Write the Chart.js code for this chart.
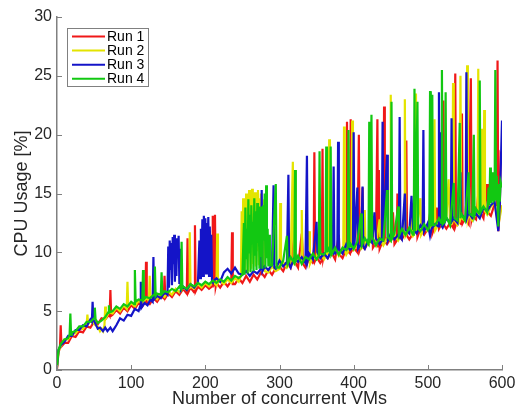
<!DOCTYPE html>
<html>
<head>
<meta charset="utf-8">
<script src="https://cdn.jsdelivr.net/npm/chart.js@4.4.0/dist/chart.umd.min.js"></script>
<style>
  html, body { margin: 0; padding: 0; background: #fff; }
  #wrap { width: 516px; height: 411px; }
</style>
</head>
<body>
<div id="wrap"><canvas id="cpuChart" width="516" height="411"></canvas></div>
<script>
// CPU usage per number of concurrent VMs, 4 runs, [vm, cpu %]
const runLabels = ['Run 1', 'Run 2', 'Run 3', 'Run 4'];
const runColors = ['#f01818', '#e4e400', '#1414c8', '#12c812'];

const run1 = [[0,0.1],[2,1.5],[4,1.9],[5,3.8],[6,2.0],[10,2.3],[15,2.3],[20,2.9],[25,2.8],[30,3.3],[35,3.2],[40,3.7],[45,3.6],[50,4.1],[55,3.9],[60,4.4],[65,4.3],[70,4.7],[71,4.6],[72,6.8],[73,4.6],[75,4.7],[80,5.1],[85,4.8],[90,5.3],[95,5.0],[100,5.5],[105,5.2],[110,5.7],[115,5.4],[119,5.8],[120,9.2],[121,5.7],[125,5.6],[130,6.1],[135,5.8],[140,6.3],[144,6.1],[145,8.0],[146,6.1],[150,6.5],[155,6.2],[160,6.7],[165,6.4],[170,6.9],[175,6.5],[176,11.2],[177,6.6],[180,7.0],[185,6.6],[186,12.3],[187,6.7],[190,7.1],[195,6.8],[200,7.2],[205,6.9],[209,7.1],[210,13.1],[211,7.1],[213,13.2],[214,7.1],[215,7.4],[220,7.0],[225,7.5],[230,7.1],[235,7.6],[236,11.7],[237,7.3],[240,7.3],[245,7.8],[250,7.4],[255,8.0],[260,7.5],[265,8.1],[270,7.7],[275,8.3],[280,7.9],[285,8.5],[290,8.1],[295,8.7],[300,8.8],[305,8.4],[310,9.1],[315,8.7],[318,10.5],[320,9.3],[325,8.7],[330,11.6],[332,9.0],[335,8.7],[340,9.5],[345,9.1],[346,9.2],[347,18.5],[348,9.3],[350,9.6],[355,9.1],[357,9.3],[358,18.8],[359,9.5],[360,9.8],[365,9.5],[370,10.0],[375,9.4],[380,11.5],[381,9.8],[385,9.5],[390,10.3],[391,21.1],[392,10.1],[395,9.9],[396,21.3],[397,10.1],[400,10.4],[405,10.0],[407,20.0],[408,10.2],[410,10.6],[412,15.5],[413,10.4],[415,10.3],[420,10.9],[425,12.4],[426,10.4],[430,10.8],[432,21.3],[433,10.5],[434,17.0],[435,10.3],[440,11.1],[441,22.4],[442,10.9],[445,10.7],[450,11.2],[453,13.4],[455,10.7],[458,11.0],[459,15.0],[460,11.4],[465,11.1],[470,11.7],[471,19.5],[472,11.4],[475,11.1],[480,11.6],[485,13.5],[486,11.3],[490,12.0],[495,11.5],[500,12.0],[505,14.2],[506,11.6],[510,12.3],[512,13.8],[515,12.0],[520,12.6],[521,22.9],[522,12.3],[525,12.0],[530,12.5],[535,12.0],[537,25.2],[538,12.4],[540,12.8],[545,12.4],[546,21.8],[547,12.5],[550,12.9],[555,12.4],[558,24.8],[559,12.8],[560,13.1],[565,12.8],[568,15.0],[570,13.5],[575,12.9],[580,15.8],[581,13.4],[585,13.1],[590,14.1],[593,14.0],[594,26.3],[595,11.8],[597,13.5],[598,18.3],[600,18.0]];

const run2 = [[0,0.2],[2,1.6],[5,2.0],[10,2.6],[15,2.6],[20,3.1],[25,3.1],[30,3.5],[35,3.5],[40,3.9],[41,4.7],[42,3.9],[45,4.2],[50,3.9],[55,3.7],[58,3.3],[60,3.5],[62,3.3],[64,3.8],[65,5.4],[66,4.4],[70,4.9],[75,4.8],[80,5.3],[85,5.0],[90,5.5],[94,5.2],[95,7.5],[96,5.4],[100,5.7],[105,5.4],[110,5.9],[115,5.6],[120,6.1],[124,5.9],[125,8.0],[126,6.0],[130,6.3],[135,6.0],[140,6.5],[145,6.2],[150,6.7],[155,6.4],[160,6.9],[165,6.6],[170,7.0],[175,6.8],[178,7.0],[179,11.7],[180,7.1],[185,6.9],[190,7.3],[195,7.0],[200,7.4],[205,7.1],[210,7.5],[215,7.2],[216,11.6],[217,7.4],[220,7.6],[225,7.3],[230,7.7],[235,7.4],[240,7.8],[245,7.5],[248,8.0],[249,13.5],[250,8.2],[251,14.6],[252,9.5],[253,12.8],[254,8.3],[255,15.0],[256,10.5],[257,14.2],[258,8.4],[259,15.3],[260,11.0],[261,14.8],[262,8.6],[263,15.4],[264,9.0],[265,14.4],[266,12.0],[267,15.1],[268,8.8],[269,13.9],[270,10.2],[271,15.3],[272,8.9],[273,14.6],[274,11.5],[275,15.0],[276,9.0],[277,13.8],[278,8.6],[279,14.5],[280,8.4],[285,8.3],[290,8.8],[295,8.4],[300,8.6],[301,14.2],[302,8.9],[305,9.2],[310,8.7],[315,9.2],[318,17.7],[319,9.1],[320,9.0],[325,9.6],[329,9.2],[330,13.6],[331,9.3],[335,9.5],[340,11.8],[341,9.0],[345,9.6],[350,9.4],[352,11.2],[355,9.9],[360,9.4],[365,10.0],[366,9.9],[367,19.6],[368,9.9],[370,9.8],[375,10.3],[380,9.7],[385,10.3],[386,10.3],[387,20.7],[388,10.2],[390,9.8],[395,10.4],[397,10.4],[398,21.2],[399,10.3],[400,10.2],[405,10.8],[410,10.3],[414,10.6],[415,13.6],[416,10.6],[420,10.6],[425,11.2],[430,10.6],[435,12.8],[436,11.1],[440,10.6],[445,11.2],[449,11.1],[450,23.4],[451,11.1],[455,11.5],[460,11.0],[465,11.6],[468,11.5],[469,23.0],[470,11.4],[475,12.0],[477,11.7],[478,14.0],[479,11.6],[480,11.4],[483,11.7],[484,23.5],[485,12.0],[490,14.6],[491,11.5],[495,12.0],[500,11.8],[505,12.4],[508,12.2],[509,21.3],[510,11.9],[515,12.5],[520,12.3],[525,12.9],[528,16.2],[530,12.3],[533,12.5],[534,24.4],[535,12.8],[540,12.3],[543,12.6],[544,25.0],[545,12.9],[550,12.7],[552,12.8],[553,25.9],[554,12.9],[555,13.2],[560,12.7],[565,13.3],[567,13.2],[568,25.6],[569,13.2],[570,13.2],[572,20.5],[573,13.5],[575,13.8],[576,22.1],[577,13.5],[580,13.2],[585,13.9],[590,14.2],[595,12.3],[600,14.0]];

const run3 = [[0,0.3],[2,1.7],[5,2.1],[10,2.4],[15,2.9],[20,2.9],[25,3.4],[30,3.4],[35,3.8],[40,3.7],[45,4.3],[47,4.1],[48,5.8],[49,4.3],[52,3.9],[55,3.5],[58,3.6],[62,3.3],[65,3.6],[68,3.3],[72,3.6],[75,3.3],[78,3.6],[80,3.8],[85,4.4],[90,4.2],[95,4.7],[100,4.6],[105,5.2],[110,5.0],[112,5.4],[113,7.5],[114,5.3],[118,5.7],[122,5.5],[126,6.0],[129,5.8],[130,9.6],[131,6.0],[135,6.3],[140,6.1],[145,6.6],[149,6.4],[150,10.5],[151,7.0],[152,11.0],[153,8.5],[154,10.8],[155,7.2],[156,11.3],[157,9.0],[158,11.5],[159,7.5],[160,10.6],[161,8.0],[162,11.2],[163,9.5],[164,11.4],[165,7.3],[166,10.3],[167,6.8],[170,7.1],[175,6.8],[180,7.3],[185,7.0],[190,7.4],[192,11.0],[193,7.8],[194,12.0],[195,9.0],[196,12.8],[197,8.0],[198,13.1],[199,10.5],[200,12.9],[201,8.2],[202,12.5],[203,9.8],[204,13.0],[205,8.0],[206,12.2],[207,9.0],[208,11.5],[209,7.6],[210,7.5],[215,7.8],[220,7.5],[225,8.3],[230,8.6],[235,8.2],[240,8.7],[245,8.2],[250,8.1],[255,8.4],[260,8.0],[265,8.4],[270,8.2],[275,8.6],[276,15.3],[277,8.4],[280,8.8],[285,8.5],[290,9.0],[292,15.7],[293,8.7],[295,8.6],[300,9.3],[305,8.8],[310,9.2],[312,16.6],[313,9.0],[315,8.7],[320,9.5],[325,9.2],[330,9.6],[335,9.1],[337,18.2],[338,9.3],[340,9.9],[345,9.4],[350,12.6],[351,10.0],[355,9.5],[360,9.9],[365,9.5],[370,10.2],[372,10.0],[373,17.3],[374,10.0],[375,9.9],[378,10.1],[379,19.4],[380,10.3],[385,9.9],[390,10.7],[395,10.2],[399,10.4],[400,20.2],[401,10.5],[405,15.5],[406,10.3],[410,10.7],[412,15.6],[413,10.5],[415,10.3],[420,11.1],[425,10.8],[428,13.4],[430,11.2],[435,10.7],[438,11.0],[439,21.1],[440,11.5],[445,18.3],[446,11.0],[450,11.6],[455,11.1],[460,11.5],[461,11.4],[462,21.5],[463,11.3],[465,11.1],[469,15.0],[470,11.9],[475,11.6],[478,14.8],[480,12.0],[485,11.6],[490,12.3],[493,12.0],[494,20.4],[495,11.8],[500,12.5],[503,11.4],[505,12.0],[510,12.4],[514,12.2],[515,23.6],[516,12.3],[518,20.2],[519,12.2],[520,12.1],[525,12.9],[530,12.5],[531,12.6],[532,21.4],[533,12.7],[535,12.9],[540,12.5],[544,16.8],[545,13.3],[550,12.8],[551,12.9],[552,25.3],[553,13.0],[555,13.4],[560,12.9],[565,13.3],[570,12.9],[575,13.8],[580,13.5],[585,14.0],[590,14.3],[595,11.8],[597,14.0],[600,21.2]];

const run4 = [[0,0.3],[2,1.7],[5,2.2],[10,2.6],[15,2.7],[17,3.0],[18,4.8],[19,3.0],[20,3.2],[25,3.3],[30,3.7],[35,3.7],[40,4.1],[45,4.1],[50,4.4],[51,5.3],[52,4.3],[55,4.0],[60,4.2],[65,4.5],[69,4.9],[70,5.5],[71,4.9],[75,5.0],[80,5.4],[85,5.2],[90,5.6],[95,5.4],[100,5.8],[104,5.6],[105,8.5],[106,5.8],[110,6.0],[115,5.9],[116,8.5],[117,6.0],[120,6.2],[125,6.1],[131,6.4],[132,8.8],[133,6.3],[135,6.5],[140,6.4],[141,8.3],[142,6.5],[145,6.7],[150,6.6],[155,6.9],[160,6.7],[165,7.1],[167,6.9],[168,10.9],[169,7.0],[170,7.1],[175,6.9],[180,7.3],[185,7.1],[190,7.4],[195,7.2],[200,7.5],[205,7.3],[210,7.6],[215,7.4],[220,7.7],[225,7.5],[230,7.9],[235,7.6],[240,8.0],[245,7.8],[250,8.1],[252,12.5],[253,8.1],[254,13.8],[255,9.5],[256,12.0],[257,8.2],[258,14.5],[259,10.0],[260,13.2],[261,8.3],[262,14.0],[263,11.0],[264,12.6],[265,8.4],[266,14.6],[267,9.8],[268,13.5],[269,8.5],[270,14.2],[271,10.8],[272,12.8],[273,8.6],[274,13.9],[275,9.6],[276,12.2],[277,8.6],[278,14.0],[279,11.0],[280,15.0],[281,8.7],[282,15.7],[283,9.5],[284,12.0],[285,8.8],[286,11.5],[287,8.9],[290,8.9],[295,15.8],[296,8.7],[300,8.7],[305,9.3],[310,11.4],[311,9.0],[315,9.6],[320,9.1],[321,17.0],[322,9.3],[325,9.7],[330,9.0],[335,9.6],[340,9.4],[345,9.9],[350,9.4],[353,9.7],[354,18.6],[355,9.9],[360,9.8],[362,10.0],[363,19.0],[364,10.0],[365,10.4],[368,10.0],[369,19.0],[370,9.8],[375,10.4],[380,9.8],[385,10.4],[390,10.2],[392,10.4],[393,20.4],[394,10.5],[395,10.8],[400,10.3],[405,10.9],[410,13.3],[411,10.6],[415,11.2],[420,10.7],[421,21.1],[422,10.8],[424,21.7],[425,11.3],[430,10.6],[435,11.2],[440,11.0],[445,15.3],[446,11.3],[450,11.0],[451,22.8],[452,11.2],[455,11.6],[460,13.9],[461,11.4],[465,12.0],[470,11.5],[475,12.1],[480,11.5],[481,11.7],[482,23.9],[483,11.8],[486,22.8],[487,12.0],[490,11.8],[495,12.4],[500,11.9],[502,12.1],[503,23.7],[504,12.2],[506,23.4],[507,12.3],[510,12.3],[515,12.9],[518,12.5],[519,25.5],[520,12.4],[523,12.6],[524,23.6],[525,13.0],[530,12.3],[535,15.9],[536,12.9],[540,12.7],[543,21.0],[544,12.9],[545,13.3],[550,12.7],[555,16.8],[556,13.3],[560,13.1],[562,20.0],[563,13.2],[565,13.7],[569,13.3],[570,24.6],[571,13.4],[575,13.9],[580,13.4],[582,15.5],[583,14.0],[584,17.2],[585,14.2],[586,16.0],[587,14.3],[588,16.8],[589,14.4],[590,14.5],[591,25.5],[592,14.5],[593,16.5],[594,14.2],[595,12.2],[596,15.8],[597,14.3],[598,16.0],[600,15.5]];

const allRuns = [run1, run2, run3, run4];

const axisGrey = '#808080';
const textGrey = '#262626';
const fontFamily = '"Liberation Sans", Arial, sans-serif';

// inward tick marks like the original figure
const innerTicks = {
    id: 'innerTicks',
    afterDraw(chart) {
        const ctx = chart.ctx;
        const xs = chart.scales.x, ys = chart.scales.y;
        ctx.save();
        ctx.strokeStyle = axisGrey;
        ctx.lineWidth = 1;
        ctx.beginPath();
        xs.ticks.forEach(t => {
            const px = Math.round(xs.getPixelForValue(t.value)) + 0.5;
            ctx.moveTo(px, ys.bottom);
            ctx.lineTo(px, ys.bottom - 5);
        });
        ys.ticks.forEach(t => {
            const py = Math.round(ys.getPixelForValue(t.value)) + 0.5;
            ctx.moveTo(xs.left, py);
            ctx.lineTo(xs.left + 5, py);
        });
        ctx.stroke();
        ctx.restore();
    }
};

// boxed legend inside the plot, top left
const boxLegend = {
    id: 'boxLegend',
    afterDraw(chart) {
        const ctx = chart.ctx;
        const sets = chart.data.datasets;
        const x0 = 67.5, y0 = 28.5, w = 81, rowH = 14.1;
        ctx.save();
        ctx.fillStyle = '#fff';
        ctx.strokeStyle = axisGrey;
        ctx.lineWidth = 1;
        ctx.fillRect(x0, y0, w, 58);
        ctx.strokeRect(x0, y0, w, 58);
        ctx.font = '14px ' + fontFamily;
        ctx.textBaseline = 'middle';
        sets.forEach((ds, i) => {
            const yy = y0 + 8 + i * rowH;
            ctx.strokeStyle = ds.borderColor;
            ctx.lineWidth = 2;
            ctx.beginPath();
            ctx.moveTo(x0 + 4.5, yy);
            ctx.lineTo(x0 + 37.5, yy);
            ctx.stroke();
            ctx.fillStyle = '#000';
            ctx.fillText(ds.label, x0 + 39.5, yy + 0.5);
        });
        ctx.restore();
    }
};

const ctx = document.getElementById('cpuChart').getContext('2d');
new Chart(ctx, {
    type: 'line',
    data: {
        datasets: allRuns.map((run, i) => ({
            label: runLabels[i],
            data: run.map(p => ({x: p[0], y: p[1]})),
            borderColor: runColors[i],
            backgroundColor: runColors[i],
            borderWidth: 2.2,
            pointRadius: 0,
            tension: 0,
            fill: false,
            order: 4 - i
        }))
    },
    options: {
        responsive: false,
        animation: false,
        events: [],
        layout: { padding: { top: 17, right: 14, left: 0, bottom: 0 } },
        plugins: {
            legend: { display: false },
            tooltip: { enabled: false }
        },
        scales: {
            x: {
                type: 'linear',
                min: 0, max: 600,
                border: { display: true, color: axisGrey, width: 1.5 },
                grid: { display: false, drawTicks: false },
                ticks: {
                    stepSize: 100,
                    maxRotation: 0,
                    padding: 4,
                    color: textGrey,
                    font: { family: fontFamily, size: 16 }
                },
                title: {
                    display: true,
                    text: 'Number of concurrent VMs',
                    color: textGrey,
                    padding: { top: 0, bottom: 1 },
                    font: { family: fontFamily, size: 18 }
                },
                afterFit(scale) {
                    scale.height = 41;
                    scale.paddingLeft = 0;
                    scale.paddingRight = 0;
                }
            },
            y: {
                min: 0, max: 30,
                border: { display: true, color: axisGrey, width: 1.5 },
                grid: { display: false, drawTicks: false },
                ticks: {
                    stepSize: 5,
                    padding: 5,
                    color: textGrey,
                    font: { family: fontFamily, size: 16 }
                },
                title: {
                    display: true,
                    text: 'CPU Usage [%]',
                    color: textGrey,
                    padding: { top: 11, bottom: 0 },
                    font: { family: fontFamily, size: 18 }
                },
                afterFit(scale) {
                    scale.width = 57;
                    scale.paddingTop = 0;
                    scale.paddingBottom = 0;
                }
            }
        }
    },
    plugins: [innerTicks, boxLegend]
});
</script>
</body>
</html>
